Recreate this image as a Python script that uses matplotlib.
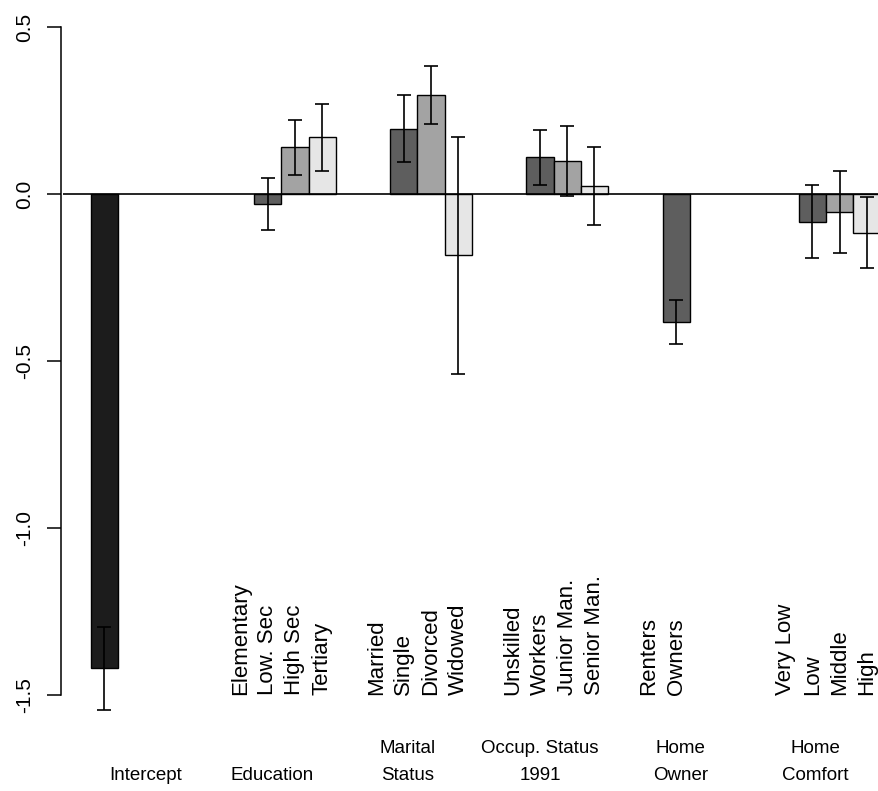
import numpy as np
import matplotlib
matplotlib.use("Agg")
import matplotlib.pyplot as plt
import matplotlib.transforms as mtransforms

plt.rcParams['font.family'] = ['Liberation Sans', 'DejaVu Sans']

# Model terms, one group per covariate (first level of each factor is the reference)
groups = ["Intercept", "Education", "Marital\nStatus", "Occup. Status\n1991",
          "Home\nOwner", "Home\nComfort"]
levels = [
    [""],
    ["Elementary", "Low. Sec", "High Sec", "Tertiary"],
    ["Married", "Single", "Divorced", "Widowed"],
    ["Unskilled", "Workers", "Junior Man.", "Senior Man."],
    ["Renters", "Owners"],
    ["Very Low", "Low", "Middle", "High"],
]
coefs = [
    [-1.42],
    [0.0, -0.03, 0.14, 0.17],
    [0.0, 0.195, 0.296, -0.184],
    [0.0, 0.11, 0.099, 0.024],
    [0.0, -0.383],
    [0.0, -0.083, -0.054, -0.116],
]
errors = [
    [0.125],
    [0.0, 0.079, 0.082, 0.10],
    [0.0, 0.10, 0.087, 0.354],
    [0.0, 0.082, 0.104, 0.117],
    [0.0, 0.065],
    [0.0, 0.11, 0.124, 0.106],
]

shades = ["#1c1c1c", "#5e5e5e", "#a3a3a3", "#e6e6e6"]
slots_per_group = 4
group_space = 1
# group label x position relative to the first bar's left edge
label_offset = [2.0, 1.66, 1.65, 1.5, 1.65, 1.6]

fig = plt.figure(figsize=(8.79, 7.91), dpi=100)
ax = fig.add_axes([61 / 879, 71 / 791, 818 / 879, 710 / 791])

for g in range(len(groups)):
    left0 = group_space + g * (slots_per_group + group_space)
    x = left0 + np.arange(len(coefs[g])) + 0.5
    vals = np.array(coefs[g])
    err = np.array(errors[g])
    keep = vals != 0
    ax.bar(x[keep], vals[keep], width=1.0, color=np.array(shades[:len(vals)])[keep],
           edgecolor="black", linewidth=1.0, zorder=2)
    ax.errorbar(x[keep], vals[keep], yerr=err[keep], fmt="none",
                ecolor="black", elinewidth=1.2, capsize=5, capthick=1.2, zorder=4)
    for xi, name in zip(x, levels[g]):
        if name:
            ax.text(xi, -1.5, name, rotation=90, ha="center", va="bottom",
                    fontsize=16)

ax.set_xlim(-0.09, 29.95)
ax.set_ylim(-(720 - 194) / 334, (194 - 10) / 334)
ax.hlines(0, 0, 31, color="black", linewidth=1.2, zorder=3)

ax.spines[["top", "right", "bottom"]].set_visible(False)
ax.spines["left"].set_bounds(-1.5, 0.5)
ax.spines["left"].set_linewidth(1.1)
ax.set_xticks([])
ax.set_yticks([-1.5, -1.0, -0.5, 0.0, 0.5])
ax.set_yticklabels(["-1.5", "-1.0", "-0.5", "0.0", "0.5"], rotation=90,
                   va="center", fontsize=15)
ax.tick_params(axis="y", length=10, width=1.1, pad=9)

# covariate names under each group
trans = mtransforms.blended_transform_factory(ax.transData, fig.transFigure)
for g, name in enumerate(groups):
    left0 = group_space + g * (slots_per_group + group_space)
    ax.text(left0 + label_offset[g], 1 - 784 / 791, name, transform=trans,
            ha="center", va="bottom", multialignment="center", fontsize=13.5,
            linespacing=1.75)

fig.savefig("out.png", dpi=100)
